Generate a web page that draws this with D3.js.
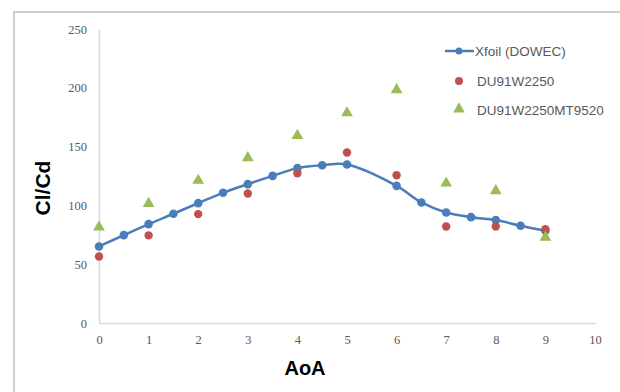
<!DOCTYPE html>
<html><head><meta charset="utf-8">
<script src="https://cdn.jsdelivr.net/npm/d3@7"></script>
<style>body{margin:0;background:#fff}svg{display:block}</style>
</head><body>
<script>
const xfoilAoA = [0,0.5,1,1.5,2,2.5,3,3.5,4,4.5,5,6,6.5,7,7.5,8,8.5,9];
const xfoilClCd = [65.1,74.7,84.1,92.9,101.9,110.7,118.1,125.1,131.7,134.2,134.8,116.6,102.5,94.0,90.0,87.5,82.7,78.4];
const duAoA = [0,1,2,3,4,5,6,7,8,9];
const duClCd = [56.6,74.5,92.6,110.1,127.4,145.0,125.7,82.1,82.1,79.8];
const mtAoA = [0,1,2,3,4,5,6,7,8,9];
const mtClCd = [81.5,101.6,121.2,140.4,159.4,178.6,198.2,118.9,112.4,72.8];
const xTicks = [0,1,2,3,4,5,6,7,8,9,10];
const yTicks = [0,50,100,150,200,250];
const seriesNames = ["Xfoil (DOWEC)","DU91W2250","DU91W2250MT9520"];

const W=620,H=392;
const svg=d3.select("body").append("svg").attr("width",W).attr("height",H);
svg.append("rect").attr("x",14).attr("y",12).attr("width",W+10).attr("height",H+10)
  .attr("fill","#fff").attr("stroke","#bfbfbf").attr("stroke-width",1.5);

const x=d3.scaleLinear().domain([0,10]).range([99,595]);
const y=d3.scaleLinear().domain([0,250]).range([323,29]);

const xAxis=svg.append("g").attr("transform",`translate(0,${y(0)})`)
  .call(d3.axisBottom(x).tickValues(xTicks).tickSize(0).tickPadding(12));
const yAxis=svg.append("g").attr("transform",`translate(${x(0)},0)`)
  .call(d3.axisLeft(y).tickValues(yTicks).tickSize(0).tickPadding(12));
[xAxis,yAxis].forEach(g=>{
  g.select(".domain").attr("stroke","#d9d9d9").attr("stroke-width",1.5);
  g.selectAll("text").attr("font-family","'Liberation Serif','DejaVu Serif',serif")
   .attr("font-size",12.5).attr("fill","#595959");
});

svg.append("text").attr("x",305).attr("y",375).attr("text-anchor","middle")
  .attr("font-family","'Liberation Sans',Arial,sans-serif").attr("font-weight","bold")
  .attr("font-size",20).attr("fill","#000").text("AoA");
svg.append("text").attr("transform","translate(50,188) rotate(-90)").attr("text-anchor","middle")
  .attr("font-family","'Liberation Sans',Arial,sans-serif").attr("font-weight","bold")
  .attr("font-size",21).attr("fill","#000").text("Cl/Cd");

const blue="#4a7ebb",red="#c0504d",green="#9bbb59";
const xf=xfoilAoA.map((a,i)=>[a,xfoilClCd[i]]);
const line=d3.line().x(d=>x(d[0])).y(d=>y(d[1])).curve(d3.curveCatmullRom.alpha(0.5));
svg.append("path").datum(xf).attr("d",line).attr("fill","none").attr("stroke",blue).attr("stroke-width",2.5);
svg.selectAll(".xf").data(xf).enter().append("circle")
  .attr("cx",d=>x(d[0])).attr("cy",d=>y(d[1])).attr("r",4.3).attr("fill",blue);

svg.selectAll(".du").data(duAoA.map((a,i)=>[a,duClCd[i]])).enter().append("circle")
  .attr("cx",d=>x(d[0])).attr("cy",d=>y(d[1])).attr("r",4.2).attr("fill",red);

const tri=d3.symbol().type(d3.symbolTriangle).size(60);
svg.selectAll(".mt").data(mtAoA.map((a,i)=>[a,mtClCd[i]])).enter().append("path")
  .attr("d",tri).attr("transform",d=>`translate(${x(d[0])},${y(d[1])})`).attr("fill",green);

const lg=svg.append("g").attr("font-family","'Liberation Sans',Arial,sans-serif").attr("font-size",13.5).attr("fill","#595959");
lg.append("line").attr("x1",445).attr("x2",474).attr("y1",51).attr("y2",51).attr("stroke",blue).attr("stroke-width",2.5);
lg.append("circle").attr("cx",459).attr("cy",51).attr("r",3.5).attr("fill",blue);
lg.append("text").attr("x",475).attr("y",56).text(seriesNames[0]);
lg.append("circle").attr("cx",459).attr("cy",81).attr("r",4).attr("fill",red);
lg.append("text").attr("x",477).attr("y",86).text(seriesNames[1]);
lg.append("path").attr("d",tri).attr("transform","translate(459,109)").attr("fill",green);
lg.append("text").attr("x",477).attr("y",115).text(seriesNames[2]);
</script>
</body></html>
